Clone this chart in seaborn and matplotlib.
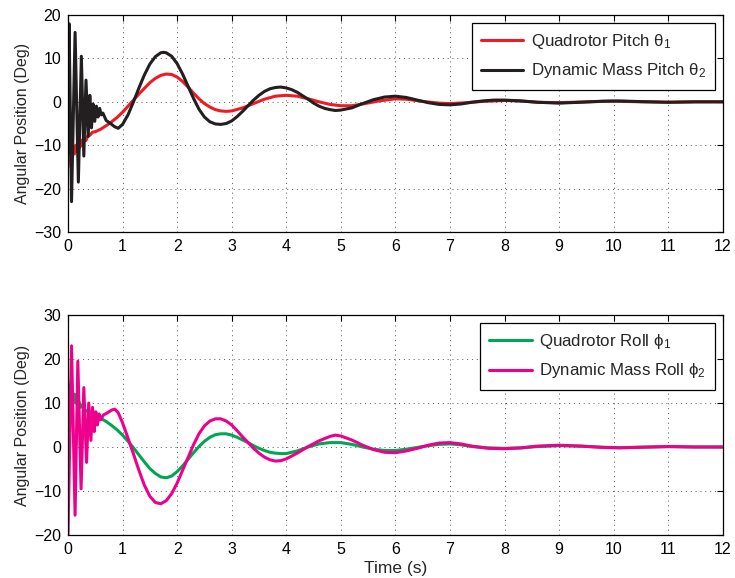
import numpy as np
import pandas as pd
import matplotlib
matplotlib.use('Agg')
import matplotlib.pyplot as plt
import seaborn as sns

# Top panel: pitch (deg)
t_pitch_quad = [0, 0.02, 0.04, 0.06, 0.08, 0.10, 0.12, 0.14, 0.16, 0.18, 0.20, 0.22, 0.24,
                0.26, 0.28, 0.30, 0.33, 0.36, 0.40, 0.45, 0.5, 0.6, 0.7, 0.8, 0.9, 1.0, 1.1,
                1.2, 1.3, 1.4, 1.5, 1.6, 1.7, 1.8, 1.9, 2.0, 2.1, 2.2, 2.3, 2.4, 2.5, 2.6,
                2.7, 2.8, 2.9, 3.0, 3.2, 3.4, 3.6, 3.8, 4.0, 4.2, 4.4, 4.6, 4.8, 5.0, 5.2,
                5.4, 5.7, 6.0, 6.2, 6.5, 6.8, 7.0, 7.3, 7.6, 8.0, 8.3, 8.6, 9.0, 9.5, 10.0,
                10.5, 11.0, 11.5, 12.0]
pitch_quad = [-15, -11.5, -13.2, -10.8, -12.6, -10.5, -12.0, -10.0, -11.4, -9.6, -10.8, -9.2,
              -10.2, -8.8, -9.6, -8.4, -8.9, -7.9, -7.7, -7.0, -6.9, -6.3, -5.5, -4.6, -3.6,
              -2.4, -1.0, 0.4, 1.8, 3.1, 4.4, 5.4, 6.1, 6.4, 6.3, 5.7, 4.7, 3.4, 2.0, 0.7,
              -0.4, -1.2, -1.8, -2.1, -2.2, -2.1, -1.4, -0.4, 0.6, 1.3, 1.5, 1.3, 0.7, 0.0,
              -0.6, -0.9, -0.9, -0.5, 0.2, 0.7, 0.6, 0.1, -0.3, -0.4, -0.2, 0.1, 0.3, 0.2,
              -0.1, -0.2, 0.0, 0.15, 0.0, -0.1, 0.0, 0.0]

t_pitch_mass = [0, 0.02, 0.065, 0.13, 0.19, 0.245, 0.29, 0.33, 0.37, 0.40, 0.43, 0.46, 0.49,
                0.52, 0.55, 0.58, 0.61, 0.64, 0.7, 0.77, 0.85, 0.92, 1.0, 1.1, 1.2, 1.3,
                1.4, 1.5, 1.6, 1.7, 1.75, 1.8, 1.9, 2.0, 2.1, 2.2, 2.3, 2.4, 2.5, 2.6, 2.7,
                2.8, 2.9, 3.0, 3.1, 3.2, 3.3, 3.4, 3.5, 3.6, 3.7, 3.8, 3.9, 4.0, 4.1, 4.2,
                4.3, 4.4, 4.5, 4.6, 4.7, 4.8, 4.9, 5.0, 5.2, 5.4, 5.6, 5.8, 6.0, 6.2, 6.4,
                6.6, 6.8, 7.0, 7.2, 7.4, 7.6, 7.8, 8.0, 8.3, 8.6, 9.0, 9.4, 9.8, 10.1, 10.5,
                11.0, 11.5, 12.0]
pitch_mass = [-12, 18, -23, 16, -18.5, 10.5, -12.5, 5, -8, 1.5, -6, -0.5, -4.5,
              -1, -3.5, -1.5, -3, -2.6, -4.3, -4.9, -5.7, -6.1, -5.2, -3.0, 0.0, 3.2,
              6.2, 8.7, 10.4, 11.3, 11.4, 11.3, 10.5, 8.8, 6.4, 3.6, 0.8, -1.7, -3.5, -4.6,
              -5.1, -5.2, -5.0, -4.4, -3.4, -2.2, -0.9, 0.4, 1.5, 2.4, 3.0, 3.3, 3.4, 3.2,
              2.8, 2.2, 1.4, 0.6, -0.3, -1.0, -1.5, -1.8, -2.0, -1.9, -1.4, -0.4, 0.5,
              1.1, 1.3, 1.0, 0.4, -0.2, -0.6, -0.7, -0.5, -0.1, 0.2, 0.4, 0.4, 0.2, -0.1,
              -0.3, -0.1, 0.15, 0.2, 0.05, -0.1, 0.0, 0.0]

# Bottom panel: roll (deg)
t_roll_quad = [0, 0.02, 0.04, 0.06, 0.08, 0.10, 0.12, 0.14, 0.16, 0.18, 0.20, 0.23, 0.26,
               0.3, 0.35, 0.4, 0.5, 0.6, 0.7, 0.8, 0.9, 1.0, 1.1, 1.2, 1.3, 1.4, 1.5, 1.6,
               1.7, 1.8, 1.9, 2.0, 2.1, 2.2, 2.3, 2.4, 2.5, 2.6, 2.7, 2.8, 2.9, 3.0, 3.1,
               3.2, 3.3, 3.4, 3.5, 3.6, 3.7, 3.8, 3.9, 4.0, 4.2, 4.4, 4.6, 4.8, 5.0, 5.2,
               5.4, 5.6, 5.8, 6.0, 6.2, 6.4, 6.6, 6.8, 7.0, 7.2, 7.4, 7.7, 8.0, 8.3, 8.6,
               9.0, 9.4, 9.8, 10.1, 10.5, 11.0, 11.5, 12.0]
roll_quad = [15, 12, 14, 11, 13, 10.5, 12, 10, 11, 9.5, 10.3, 9, 9.6,
             8.5, 8.2, 7.6, 7.0, 6.5, 5.8, 4.9, 3.9, 2.7, 1.3, -0.2, -1.8, -3.4, -4.9, -6.0,
             -6.8, -7.0, -6.6, -5.6, -4.3, -2.8, -1.3, 0.1, 1.3, 2.2, 2.8, 3.0, 3.0, 2.7, 2.2,
             1.6, 1.0, 0.3, -0.3, -0.8, -1.2, -1.4, -1.5, -1.5, -0.9, 0.0, 0.7, 1.0, 1.0, 0.6,
             0.0, -0.5, -0.8, -0.8, -0.5, -0.1, 0.3, 0.6, 0.7, 0.5, 0.1, -0.2, -0.3, -0.2, 0.1,
             0.3, 0.2, -0.05, -0.15, -0.05, 0.1, 0.0, 0.0]

t_roll_mass = [0, 0.065, 0.13, 0.18, 0.24, 0.29, 0.34, 0.38, 0.42, 0.45, 0.48, 0.51, 0.54,
               0.57, 0.6, 0.65, 0.7, 0.75, 0.8, 0.86, 0.92, 1.0, 1.1, 1.2, 1.3, 1.4, 1.5,
               1.6, 1.7, 1.8, 1.9, 2.0, 2.1, 2.2, 2.3, 2.4, 2.5, 2.6, 2.7, 2.8, 2.9, 3.0,
               3.1, 3.2, 3.3, 3.4, 3.5, 3.6, 3.7, 3.8, 3.9, 4.0, 4.2, 4.4, 4.6, 4.8, 4.9,
               5.0, 5.2, 5.4, 5.6, 5.8, 6.0, 6.2, 6.4, 6.6, 6.8, 7.0, 7.2, 7.4, 7.7, 8.0,
               8.3, 8.6, 9.0, 9.4, 9.8, 10.1, 10.5, 11.0, 11.5, 12.0]
roll_mass = [-20, 23, -15.5, 19.5, -9.5, 13.5, -3.5, 10, 1.5, 9, 3.5, 8, 5,
             7.5, 6.2, 7.3, 7.6, 8.0, 8.4, 8.6, 7.8, 5.5, 2.0, -1.6, -5.3, -8.7, -11.2,
             -12.6, -12.9, -12.2, -10.6, -8.2, -5.3, -2.4, 0.5, 3.0, 4.8, 5.9, 6.4, 6.4,
             5.9, 5.0, 3.7, 2.3, 1.0, -0.3, -1.4, -2.3, -2.9, -3.2, -3.1, -2.7, -1.4, 0.1,
             1.4, 2.4, 2.7, 2.5, 1.6, 0.4, -0.6, -1.2, -1.3, -0.9, -0.3, 0.4, 0.9, 1.0,
             0.7, 0.2, -0.3, -0.4, -0.2, 0.2, 0.4, 0.2, -0.1, -0.2, -0.05, 0.1, 0.0, 0.0]

RED = '#ED1C24'
BLACK = '#231F20'
GREEN = '#00A651'
PINK = '#EC008C'

sns.set_style('white')
plt.rcParams['font.family'] = ['Liberation Sans', 'DejaVu Sans']
plt.rcParams['mathtext.fontset'] = 'custom'
plt.rcParams['mathtext.rm'] = 'Liberation Sans'
plt.rcParams['mathtext.it'] = 'Liberation Sans:italic'
plt.rcParams['font.size'] = 11

fig = plt.figure(figsize=(7.35, 5.78), dpi=100)
ax1 = fig.add_axes([0.0925, 0.5986, 0.891, 0.3754])
ax2 = fig.add_axes([0.0925, 0.0744, 0.891, 0.3806])


def draw_panel(ax, series, ylim, yticks):
    for t, v, color, label in series:
        df = pd.DataFrame({'t': t, 'v': v})
        sns.lineplot(data=df, x='t', y='v', ax=ax, color=color, lw=2.2,
                     label=label, estimator=None, sort=False)
    ax.set_xlim(0, 12)
    ax.set_ylim(*ylim)
    ax.set_xticks(range(0, 13))
    ax.set_yticks(yticks)
    ax.grid(True, linestyle=(0, (1, 4)), color='#555555', linewidth=0.7)
    ax.tick_params(direction='in', length=4, top=True, right=True,
                   labelsize=11.5, colors='black', pad=5)
    for s in ax.spines.values():
        s.set_color('black')
        s.set_linewidth(0.9)
    ax.set_xlabel('')
    ax.set_ylabel('Angular Position (Deg)', fontsize=11.5, labelpad=3)
    leg = ax.legend(loc='upper right', fancybox=False, framealpha=1,
                    edgecolor='black', fontsize=12.2, handlelength=2.5,
                    handletextpad=0.45, borderaxespad=0.45, borderpad=0.55,
                    labelspacing=0.62)
    leg.get_frame().set_linewidth(0.9)


draw_panel(ax1, [(t_pitch_quad, pitch_quad, RED, 'Quadrotor Pitch θ$_1$'),
                 (t_pitch_mass, pitch_mass, BLACK, 'Dynamic Mass Pitch θ$_2$')],
           (-30, 20), [-30, -20, -10, 0, 10, 20])
draw_panel(ax2, [(t_roll_quad, roll_quad, GREEN, 'Quadrotor Roll ϕ$_1$'),
                 (t_roll_mass, roll_mass, PINK, 'Dynamic Mass Roll ϕ$_2$')],
           (-20, 30), [-20, -10, 0, 10, 20, 30])
ax2.set_xlabel('Time (s)', fontsize=12.5, labelpad=3)

fig.savefig('out.png', dpi=100)
